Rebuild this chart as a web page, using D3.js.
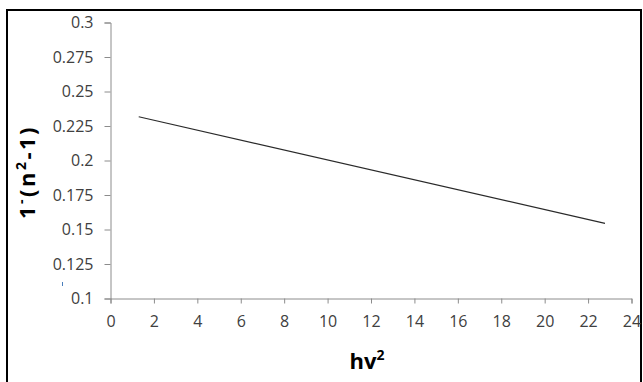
<!DOCTYPE html>
<html>
<head>
<meta charset="utf-8">
<script src="https://cdn.jsdelivr.net/npm/d3@7/dist/d3.min.js"></script>
<style>
  html, body { margin: 0; padding: 0; background: #fff; }
  svg { display: block; }
</style>
</head>
<body>
<script>
// Fitted line of 1/(n^2-1) against (h nu)^2
const lineX = [1.3, 22.78];
const lineY = [0.2317, 0.1544];
const xTicks = [0, 2, 4, 6, 8, 10, 12, 14, 16, 18, 20, 22, 24];
const yTicks = [0.1, 0.125, 0.15, 0.175, 0.2, 0.225, 0.25, 0.275, 0.3];

const W = 643, H = 382;
const svg = d3.select("body").append("svg").attr("width", W).attr("height", H);

// outer frame
svg.append("rect")
  .attr("x", 7).attr("y", 10).attr("width", 634).attr("height", 380)
  .attr("fill", "none").attr("stroke", "#000").attr("stroke-width", 2);

const x = d3.scaleLinear().domain([0, 24]).range([110.5, 631.5]);
const y = d3.scaleLinear().domain([0.1, 0.3]).range([298.5, 22.5]);

const axisColor = "#8c8c8c";
const tickFont = "'Open Sans', 'Noto Sans', sans-serif";

const gx = svg.append("g").attr("transform", `translate(0,${y(0.1)})`)
  .call(d3.axisBottom(x).tickValues(xTicks).tickSize(5).tickPadding(12)
    .tickFormat(d3.format("d")));
const gy = svg.append("g").attr("transform", `translate(${x(0)},0)`)
  .call(d3.axisLeft(y).tickValues(yTicks).tickSize(6).tickPadding(11)
    .tickFormat(d => String(+d.toFixed(3))));

[gx, gy].forEach(g => {
  g.attr("font-family", null).attr("font-size", null);
  g.select(".domain").attr("stroke", axisColor);
  g.selectAll(".tick line").attr("stroke", axisColor);
  g.selectAll(".tick text")
    .style("font-family", tickFont)
    .style("font-size", "16px")
    .attr("fill", "#404040");
});

// the fitted line
const pts = lineX.map((v, i) => [v, lineY[i]]);
svg.append("path")
  .datum(pts)
  .attr("fill", "none")
  .attr("stroke", "#2a2a2a")
  .attr("stroke-width", 1.2)
  .attr("d", d3.line().x(d => x(d[0])).y(d => y(d[1])));

// axis titles
const titleFont = "'Open Sans', 'Noto Sans', sans-serif";
const xt = svg.append("text")
  .attr("x", 367).attr("y", 369)
  .attr("text-anchor", "middle")
  .attr("font-family", titleFont).attr("font-weight", "bold")
  .attr("font-size", 22).attr("fill", "#000");
xt.append("tspan").text("hv");
xt.append("tspan").attr("dy", -9).attr("font-size", 14).text("2");

const yt = svg.append("text")
  .attr("transform", "translate(35,172) rotate(-90)")
  .attr("text-anchor", "middle")
  .attr("font-family", titleFont).attr("font-weight", "bold")
  .attr("font-size", 22).attr("letter-spacing", 2.5).attr("fill", "#000");
yt.append("tspan").text("1");
yt.append("tspan").attr("dy", -9).attr("font-size", 14).text("-");
yt.append("tspan").attr("dy", 9).text("(n");
yt.append("tspan").attr("dy", -9).attr("font-size", 14).text("2");
yt.append("tspan").attr("dy", 9).text("-1)");

// small blue mark near the lower y labels
svg.append("rect")
  .attr("x", 62).attr("y", 282).attr("width", 1).attr("height", 4)
  .attr("fill", "#4a7ebb");
</script>
</body>
</html>
